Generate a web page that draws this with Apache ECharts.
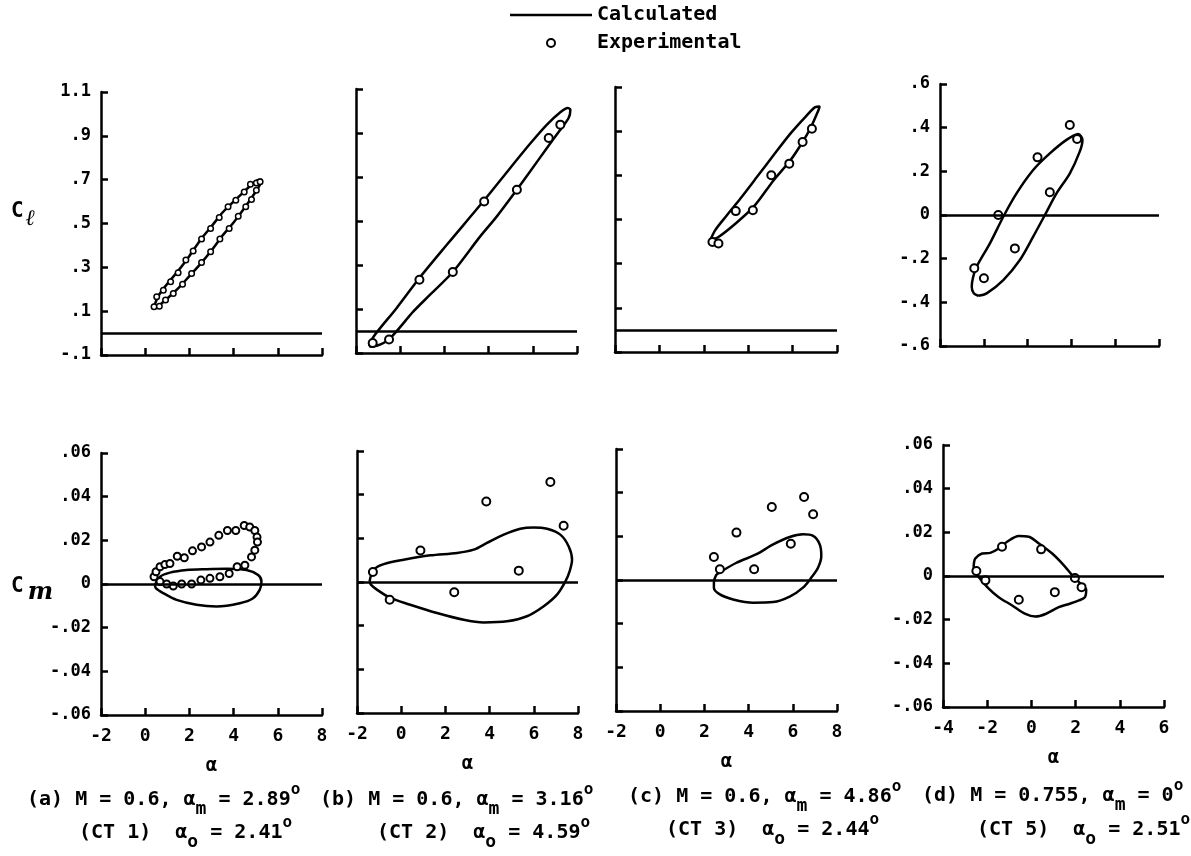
<!DOCTYPE html>
<html><head><meta charset="utf-8">
<script src="https://cdn.jsdelivr.net/npm/echarts@6/dist/echarts.min.js"></script>
<style>html,body{margin:0;padding:0;background:#fff}#c{width:1191px;height:856px}</style>
</head><body><div id="c"></div>
<script>
// ---------- tick values & labels ----------
const alphaTicksABC = [-2, 0, 2, 4, 6, 8];
const alphaTicksD = [-4, -2, 0, 2, 4, 6];
const clTicksABC = [-0.1, 0.1, 0.3, 0.5, 0.7, 0.9, 1.1];
const clTickLabelsABC = ['-.1', '.1', '.3', '.5', '.7', '.9', '1.1'];
const clTicksD = [-0.6, -0.4, -0.2, 0, 0.2, 0.4, 0.6];
const clTickLabelsD = ['-.6', '-.4', '-.2', '0', '.2', '.4', '.6'];
const cmTicks = [-0.06, -0.04, -0.02, 0, 0.02, 0.04, 0.06];
const cmTickLabels = ['-.06', '-.04', '-.02', '0', '.02', '.04', '.06'];

// ---------- (a) CT 1 ----------
const clCalcA = [[0.38,0.115],[0.6,0.17],[1.0,0.225],[1.5,0.285],[2.0,0.352],[2.5,0.425],[3.0,0.487],[3.5,0.55],[4.0,0.6],[4.5,0.648],[4.9,0.685],[5.15,0.70],[5.28,0.70],[5.2,0.678],[5.0,0.645],[4.5,0.572],[4.0,0.505],[3.5,0.445],[3.0,0.377],[2.5,0.316],[2.0,0.26],[1.5,0.205],[1.0,0.158],[0.6,0.125],[0.38,0.115]];
const clExpA = [[0.52,0.166],[0.82,0.196],[1.15,0.234],[1.49,0.275],[1.84,0.333],[2.17,0.375],[2.55,0.429],[2.96,0.477],[3.35,0.527],[3.75,0.576],[4.10,0.606],[4.48,0.644],[4.76,0.679],[5.03,0.685],[0.40,0.12],[0.64,0.123],[0.92,0.151],[1.27,0.181],[1.69,0.223],[2.10,0.272],[2.55,0.322],[2.96,0.371],[3.38,0.429],[3.80,0.477],[4.21,0.533],[4.55,0.576],[4.81,0.609],[5.03,0.652],[5.2,0.69]];
const cmCalcA = [[0.44,-0.0005],[0.67,0.0033],[1.12,0.0052],[1.87,0.0064],[2.77,0.0068],[3.68,0.007],[4.58,0.0064],[5.11,0.0041],[5.26,0.0011],[5.18,-0.0027],[4.88,-0.0065],[4.28,-0.0088],[3.23,-0.0103],[2.32,-0.0095],[1.42,-0.0073],[0.82,-0.0042],[0.49,-0.002],[0.44,-0.0005]];
const cmExpA = [[0.40,0.0033],[0.49,0.0056],[0.67,0.0079],[0.89,0.0089],[1.12,0.0094],[1.45,0.0127],[1.77,0.012],[2.14,0.0152],[2.55,0.017],[2.93,0.0192],[3.33,0.0223],[3.72,0.0245],[4.10,0.0245],[4.48,0.0268],[4.73,0.0261],[4.96,0.0245],[5.06,0.0215],[5.08,0.0192],[4.96,0.0155],[4.81,0.0124],[4.51,0.0086],[4.16,0.0079],[3.80,0.0048],[3.38,0.0033],[2.93,0.0026],[2.52,0.0018],[2.10,0.0],[1.65,0.0],[1.27,-0.0009],[0.97,0.0],[0.67,0.0011]];

// ---------- (b) CT 2 ----------
const clCalcB = [[-1.40,-0.070],[-1.215,-0.027],[-0.157,0.105],[0.87,0.241],[2.11,0.392],[3.80,0.594],[4.98,0.741],[5.885,0.852],[6.64,0.938],[7.245,0.994],[7.577,1.014],[7.70,1.006],[7.62,0.968],[7.245,0.915],[6.64,0.832],[5.885,0.726],[5.28,0.642],[4.375,0.521],[3.62,0.43],[2.38,0.268],[1.353,0.165],[0.598,0.089],[-0.489,-0.036],[-1.063,-0.067],[-1.40,-0.070]];
const clExpB = [[-1.245,-0.055],[-0.505,-0.039],[0.87,0.233],[2.38,0.268],[3.80,0.589],[5.28,0.642],[6.72,0.877],[7.245,0.938]];
const cmCalcB = [[-1.43,0.0003],[-1.25,0.0056],[-0.79,0.0082],[0.11,0.0102],[1.32,0.0122],[2.53,0.0133],[3.28,0.0148],[3.88,0.0179],[4.64,0.0217],[5.39,0.0244],[5.99,0.025],[6.60,0.0244],[7.20,0.0217],[7.58,0.0163],[7.73,0.0102],[7.62,0.0049],[7.43,0.0003],[7.05,-0.0058],[6.45,-0.0111],[5.69,-0.0157],[4.79,-0.018],[3.73,-0.0185],[2.83,-0.0173],[1.62,-0.0142],[0.41,-0.0104],[-0.49,-0.0073],[-1.10,-0.0035],[-1.37,-0.0012],[-1.43,0.0003]];
const cmExpB = [[-1.28,0.0046],[-0.52,-0.0081],[0.87,0.0144],[2.40,-0.0047],[3.85,0.0369],[5.32,0.0052],[6.75,0.0458],[7.35,0.0258]];

// ---------- (c) CT 3 ----------
const clCalcC = [[2.29,0.406],[2.51,0.451],[3.04,0.519],[3.64,0.594],[4.39,0.692],[5.14,0.791],[5.90,0.889],[6.57,0.964],[7.02,1.009],[7.22,1.012],[7.16,0.994],[6.83,0.919],[6.45,0.851],[5.90,0.768],[5.14,0.677],[4.24,0.557],[3.34,0.474],[2.66,0.421],[2.29,0.406]];
const clExpC = [[2.39,0.398],[2.66,0.391],[3.44,0.538],[4.21,0.542],[5.04,0.70],[5.85,0.753],[6.45,0.851],[6.87,0.911]];
const cmCalcC = [[2.55,0.0026],[3.45,0.0079],[4.36,0.0118],[5.11,0.0163],[5.86,0.0197],[6.46,0.0209],[6.92,0.0202],[7.22,0.0163],[7.29,0.011],[7.14,0.0056],[6.84,0.0011],[6.46,-0.0035],[5.86,-0.0076],[5.11,-0.0101],[4.21,-0.0104],[3.30,-0.0089],[2.70,-0.0066],[2.43,-0.0035],[2.43,-0.0008],[2.55,0.0026]];
const cmExpC = [[2.43,0.0105],[2.70,0.0049],[3.45,0.0217],[4.25,0.0049],[5.05,0.0334],[5.91,0.0166],[6.51,0.038],[6.92,0.0301]];

// ---------- (d) CT 5 ----------
const clCalcD = [[-2.25,-0.37],[-2.45,-0.36],[-2.55,-0.33],[-2.50,-0.29],[-2.33,-0.237],[-1.72,-0.13],[-1.11,-0.008],[-0.505,0.099],[0.255,0.206],[1.015,0.282],[1.775,0.344],[2.31,0.371],[2.505,0.344],[2.38,0.29],[1.93,0.191],[1.32,0.099],[0.79,0.0],[0.255,-0.099],[-0.353,-0.206],[-1.11,-0.298],[-1.87,-0.359],[-2.25,-0.37]];
const clExpD = [[-2.435,-0.244],[-1.994,-0.29],[-1.34,0.0],[-0.581,-0.153],[0.453,0.264],[1.015,0.104],[1.927,0.412],[2.261,0.348]];
const cmCalcD = [[-2.61,0.0049],[-2.54,0.008],[-2.23,0.0103],[-1.86,0.0106],[-1.48,0.0126],[-1.10,0.0157],[-0.57,0.0183],[-0.12,0.018],[0.34,0.0149],[0.94,0.0103],[1.47,0.0049],[1.85,0.0003],[2.22,-0.0035],[2.48,-0.0063],[2.42,-0.0097],[2.15,-0.0112],[1.70,-0.0128],[1.24,-0.0143],[0.64,-0.0174],[0.18,-0.0186],[-0.27,-0.0174],[-0.87,-0.0135],[-1.48,-0.0097],[-1.93,-0.0058],[-2.38,-0.0005],[-2.61,0.0026],[-2.61,0.0049]];
const cmExpD = [[-2.49,0.0023],[-2.08,-0.002],[-1.33,0.0134],[-0.57,-0.0109],[0.44,0.0122],[1.06,-0.0074],[1.97,-0.0009],[2.27,-0.0051]];

// ---------- captions ----------
const captionLine1 = ['(a) M = 0.6, α{m|m} = 2.89{o|o}', '(b) M = 0.6, α{m|m} = 3.16{o|o}', '(c) M = 0.6, α{m|m} = 4.86{o|o}', '(d) M = 0.755, α{m|m} = 0{o|o}'];
const captionLine2 = ['(CT 1)  α{m|o} = 2.41{o|o}', '(CT 2)  α{m|o} = 4.59{o|o}', '(CT 3)  α{m|o} = 2.44{o|o}', '(CT 5)  α{m|o} = 2.51{o|o}'];

// ---------- layout ----------
const MONO = '"DejaVu Sans Mono", "Liberation Mono", monospace';
const panels = [
  {g:{left:101,top:92,width:221,height:263}, xmin:-2,xmax:8, ymin:-0.1,ymax:1.1,yint:0.2, ticks:clTicksABC, labels:clTickLabelsABC, showY:true, bottom:false, calc:clCalcA, exp:clExpA, ms:5.5, bw:1.5},
  {g:{left:356,top:89,width:221,height:264}, xmin:-2,xmax:8, ymin:-0.1,ymax:1.1,yint:0.2, ticks:clTicksABC, labels:clTickLabelsABC, showY:false, bottom:false, calc:clCalcB, exp:clExpB, ms:8, bw:2},
  {g:{left:615,top:87,width:222,height:265}, xmin:-2,xmax:8, ymin:-0.1,ymax:1.1,yint:0.2, ticks:clTicksABC, labels:clTickLabelsABC, showY:false, bottom:false, calc:clCalcC, exp:clExpC, ms:8, bw:2},
  {g:{left:940,top:84,width:219,height:262}, xmin:-4,xmax:6, ymin:-0.6,ymax:0.6,yint:0.2, ticks:clTicksD, labels:clTickLabelsD, showY:true, bottom:false, calc:clCalcD, exp:clExpD, ms:8, bw:2},
  {g:{left:101,top:453,width:221,height:262}, xmin:-2,xmax:8, ymin:-0.06,ymax:0.06,yint:0.02, ticks:cmTicks, labels:cmTickLabels, showY:true, bottom:true, calc:cmCalcA, exp:cmExpA, ms:7, bw:2},
  {g:{left:357,top:451,width:221,height:262}, xmin:-2,xmax:8, ymin:-0.06,ymax:0.06,yint:0.02, ticks:cmTicks, labels:cmTickLabels, showY:false, bottom:true, calc:cmCalcB, exp:cmExpB, ms:8, bw:2},
  {g:{left:616,top:449,width:221,height:262}, xmin:-2,xmax:8, ymin:-0.06,ymax:0.06,yint:0.02, ticks:cmTicks, labels:cmTickLabels, showY:false, bottom:true, calc:cmCalcC, exp:cmExpC, ms:8, bw:2},
  {g:{left:943,top:445,width:221,height:262}, xmin:-4,xmax:6, ymin:-0.06,ymax:0.06,yint:0.02, ticks:cmTicks, labels:cmTickLabels, showY:true, bottom:true, calc:cmCalcD, exp:cmExpD, ms:8, bw:2}
];

const grid = [], xAxis = [], yAxis = [], series = [];
const axLine = {show:true, onZero:false, lineStyle:{color:'#000', width:2.5}};
const axTick = {show:true, inside:true, length:7, lineStyle:{color:'#000', width:2.5}};

panels.forEach((p, i) => {
  grid.push(Object.assign({containLabel:false, outerBoundsMode:'none'}, p.g));
  xAxis.push({
    type:'value', gridIndex:i, min:p.xmin, max:p.xmax, interval:2,
    axisLine:axLine, axisTick:axTick, splitLine:{show:false},
    axisLabel:{show:p.bottom, margin:12, fontFamily:MONO, fontSize:18, fontWeight:'bold', color:'#000', showMinLabel:true, showMaxLabel:true},
    name: p.bottom ? 'α' : '', nameLocation:'middle', nameGap:42,
    nameTextStyle:{fontFamily:MONO, fontSize:19, fontWeight:'bold', color:'#000'}
  });
  const tk = p.ticks, lb = p.labels;
  yAxis.push({
    type:'value', gridIndex:i, min:p.ymin, max:p.ymax, interval:p.yint,
    axisLine:axLine, axisTick:axTick, splitLine:{show:false},
    axisLabel:{show:p.showY, margin:10, fontFamily:MONO, fontSize:17, fontWeight:'bold', color:'#000', showMinLabel:true, showMaxLabel:true,
      formatter: v => { const k = tk.findIndex(t => Math.abs(t - v) < 1e-7); return k >= 0 ? lb[k] : ''; }}
  });
  series.push({
    name:'Calculated', type:'line', xAxisIndex:i, yAxisIndex:i, data:p.calc,
    symbol:'none', smooth:0.3, lineStyle:{color:'#000', width:2.5}, itemStyle:{color:'#000'}, z:3,
    markLine:{silent:true, symbol:['none','none'], label:{show:false}, lineStyle:{color:'#000', width:2.5, type:'solid'}, data:[{yAxis:0}], animation:false}
  });
  series.push({
    name:'Experimental', type:'scatter', xAxisIndex:i, yAxisIndex:i, data:p.exp,
    symbol:'circle', symbolSize:p.ms, itemStyle:{color:'#fff', borderColor:'#000', borderWidth:p.bw, opacity:1}, z:4
  });
});

const capStyle = {
  fontFamily:MONO, fontSize:20, fontWeight:'bold', color:'#000', lineHeight:36,
  rich:{
    m:{fontFamily:MONO, fontSize:18, fontWeight:'bold', color:'#000', verticalAlign:'bottom', lineHeight:12},
    o:{fontFamily:MONO, fontSize:16, fontWeight:'bold', color:'#000', verticalAlign:'top', lineHeight:18}
  }
};
const capL1 = [[27,800],[320,800],[628,797],[922,796]];
const capL2 = [[79,833],[377,833],[666,830],[977,830]];
const title = [];
captionLine1.forEach((t, i) => title.push({text:t, left:capL1[i][0], top:capL1[i][1]-18, padding:0, textStyle:capStyle}));
captionLine2.forEach((t, i) => title.push({text:t, left:capL2[i][0], top:capL2[i][1]-18, padding:0, textStyle:capStyle}));
title.push({text:'C{s|ℓ}', left:11, top:212-18, padding:0, textStyle:{fontFamily:MONO, fontSize:21, fontWeight:'bold', color:'#000', lineHeight:36,
  rich:{s:{fontFamily:'"DejaVu Serif", serif', fontSize:22, fontStyle:'italic', fontWeight:'bold', color:'#000', verticalAlign:'bottom', lineHeight:28, padding:[0,0,0,2]}}}});
title.push({text:'C{s|m}', left:11, top:587-18, padding:0, textStyle:{fontFamily:MONO, fontSize:21, fontWeight:'bold', color:'#000', lineHeight:36,
  rich:{s:{fontFamily:'"DejaVu Serif", serif', fontSize:24, fontStyle:'italic', fontWeight:'bold', color:'#000', verticalAlign:'bottom', lineHeight:28, padding:[0,0,0,4]}}}});

const chart = echarts.init(document.getElementById('c'), null, {renderer:'canvas'});
chart.setOption({
  animation:false,
  backgroundColor:'#fff',
  title,
  legend:{
    data:[{name:'Calculated', icon:'path://M0,0L82,0L82,2.5L0,2.5Z'}, {name:'Experimental'}],
    orient:'vertical', left:510, top:5, padding:0,
    itemWidth:82, itemHeight:8, itemGap:8, selectedMode:false,
    textStyle:{fontFamily:MONO, fontSize:20, fontWeight:'bold', color:'#000', lineHeight:20}
  },
  grid, xAxis, yAxis, series
});
</script></body></html>
